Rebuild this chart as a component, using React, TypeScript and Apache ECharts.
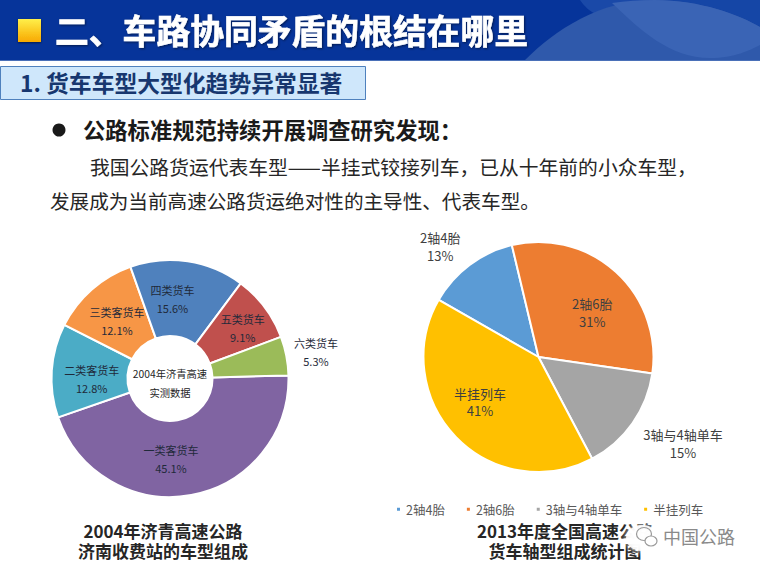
import React, { useEffect, useRef } from "react";
import * as echarts from "echarts";

const FONT = '"Noto Sans CJK SC", "Noto Sans", sans-serif';

const leftNames = ["一类客货车", "二类客货车", "三类客货车", "四类货车", "五类货车", "六类货车"];
const leftValues = [45.1, 12.8, 12.1, 15.6, 9.1, 5.3];
const leftColors = ["#8064a2", "#4bacc6", "#f79646", "#4f81bd", "#c0504d", "#9bbb59"];
const leftLabelShift = [[-14, -2], [5, 6], [2, 5], [-10, 3], [6, 0], [64, -11]];

const rightNames = ["2轴4胎", "2轴6胎", "3轴与4轴单车", "半挂列车"];
const rightValues = [13, 31, 15, 41];
const rightColors = ["#5b9bd5", "#ed7d31", "#a5a5a5", "#ffc000"];
const rightLabelShift = [[-62, -62], [13, 0], [95, 51.5], [-15, 3]];

const headerTitle = "二、车路协同矛盾的根结在哪里";
const sectionTitle = "1. 货车车型大型化趋势异常显著";
const bodyLead = "公路标准规范持续开展调查研究发现：";
const bodyLine1 = "我国公路货运代表车型——半挂式铰接列车，已从十年前的小众车型，";
const bodyLine2 = "发展成为当前高速公路货运绝对性的主导性、代表车型。";
const centerText = "2004年济青高速\n实测数据";
const leftCaption = "2004年济青高速公路\n济南收费站的车型组成";
const rightCaption = "2013年度全国高速公路\n货车轴型组成统计图";
const watermark = "中国公路";

echarts.graphic.registerShape("hdrBand", echarts.graphic.extendPath("M580 0 C584 6 590 12 598 15 C615 6 635 0 655 0 Z", {}));
echarts.graphic.registerShape("hdrSwoosh", echarts.graphic.extendPath("M525 60 C555 30 600 0 655 0 C700 0 740 15 760 27 L760 60 Z", {}));
echarts.graphic.registerShape("hdrOverlap", echarts.graphic.extendPath("M612 3 C640 30 670 58 710 58 C735 58 750 50 760 45 L760 27 C740 15 700 0 655 0 C640 0 625 1 612 3 Z", {}));
echarts.graphic.registerShape("hdrCorner", echarts.graphic.extendPath("M655 0 C700 0 740 15 760 27 L760 0 Z", {}));

const txt = (x: number, y: number, text: string, font: number, fill: string, weight: any = "normal", align: any = "left", extra: any = {}) => ({
  type: "text", x, y, z: 20,
  style: { text, fontFamily: FONT, fontSize: font, fontWeight: weight, fill, align, verticalAlign: "middle", ...extra },
});

const pieLabel = (font: number, color: string, lh: number) => ({
  show: true, position: "inside", formatter: "{b}\n{c}%", fontFamily: FONT, fontSize: font, color, lineHeight: lh,
});

export default function App() {
  const ref = useRef<HTMLDivElement>(null);
  useEffect(() => {
    const chart = echarts.init(ref.current!, null, { renderer: "svg" });
    chart.setOption({
      animation: false,
      backgroundColor: "#ffffff",
      legend: {
        data: rightNames, left: 390, top: 498, icon: "rect", itemWidth: 5, itemHeight: 5, itemGap: 20,
        textStyle: { fontFamily: FONT, fontSize: 12.5, color: "#595959" },
      },
      series: [
        {
          type: "pie", center: [170, 378.5], radius: [42.5, 118.5], startAngle: 1.5, clockwise: true,
          itemStyle: { borderColor: "#fff", borderWidth: 2 },
          label: pieLabel(11, "#1f2a3a", 18),
          labelLine: { show: false },
          labelLayout: (p: any) => ({ dx: leftLabelShift[p.dataIndex][0], dy: leftLabelShift[p.dataIndex][1] }),
          data: leftNames.map((name, i) => ({ name, value: leftValues[i], itemStyle: { color: leftColors[i] } })),
        },
        {
          type: "pie", center: [538.5, 357], radius: [0, 115], startAngle: 150.2, clockwise: true,
          itemStyle: { borderColor: "#fff", borderWidth: 2 },
          label: pieLabel(13, "#404040", 17.5),
          labelLine: { show: false },
          labelLayout: (p: any) => ({ dx: rightLabelShift[p.dataIndex][0], dy: rightLabelShift[p.dataIndex][1] }),
          data: rightNames.map((name, i) => ({ name, value: rightValues[i], itemStyle: { color: rightColors[i] } })),
        },
      ],
      graphic: [
        { type: "rect", z: 1, shape: { x: 0, y: 0, width: 760, height: 60 }, style: { fill: "#06349a" } },
        { type: "hdrBand", z: 2, style: { fill: "#1a49a8" } },
        { type: "hdrCorner", z: 2, style: { fill: "#1546a6" } },
        { type: "hdrSwoosh", z: 3, style: { fill: "#2f59ab" } },
        { type: "hdrOverlap", z: 4, style: { fill: "#3a64b5" } },
        { type: "rect", z: 4, shape: { x: 0, y: 60, width: 760, height: 1 }, style: { fill: "#4a70b8" } },
        {
          type: "rect", z: 5, shape: { x: 18, y: 19, width: 23, height: 23 },
          style: {
            fill: new echarts.graphic.LinearGradient(0, 0, 0, 1, [{ offset: 0, color: "#fff04a" }, { offset: 1, color: "#f8a800" }]),
            shadowBlur: 2, shadowColor: "rgba(0,0,0,0.5)", shadowOffsetY: 1,
          },
        },
        txt(55, 29, headerTitle, 33.8, "#ffffff", "bold", "left", { stroke: "#ffffff", lineWidth: 0.6, textShadowBlur: 2, textShadowColor: "rgba(0,0,0,0.5)", textShadowOffsetX: 1, textShadowOffsetY: 1 }),
        { type: "rect", z: 5, shape: { x: 0.5, y: 66.5, width: 365, height: 33 }, style: { fill: "#cfe7fb", stroke: "#4f81bd", lineWidth: 1 } },
        txt(20, 82.5, sectionTitle, 22.8, "#17376f", "bold"),
        { type: "circle", z: 5, shape: { cx: 59, cy: 130, r: 6.5 }, style: { fill: "#1a1a1a" } },
        txt(83, 128.5, bodyLead, 22.3, "#1a1a1a", "bold"),
        txt(90, 166.5, bodyLine1, 19.8, "#262626"),
        txt(50, 200.5, bodyLine2, 19.6, "#262626"),
        txt(170, 382.5, centerText, 10.3, "#262626", "normal", "center", { lineHeight: 19 }),
        txt(163, 540, leftCaption, 17, "#262626", "bold", "center", { lineHeight: 20 }),
        txt(565, 540, rightCaption, 17, "#262626", "bold", "center", { lineHeight: 20 }),
        { type: "ellipse", z: 30, shape: { cx: 642, cy: 538, rx: 16, ry: 13 }, style: { fill: "rgba(255,255,255,0.9)", shadowBlur: 6, shadowColor: "#ffffff" } },
        { type: "ellipse", z: 31, shape: { cx: 644, cy: 534, rx: 7.5, ry: 6.5 }, style: { fill: "none", stroke: "#9a9a9a", lineWidth: 1.2 } },
        { type: "ellipse", z: 31, shape: { cx: 651, cy: 541, rx: 6, ry: 5 }, style: { fill: "#ffffff", stroke: "#9a9a9a", lineWidth: 1.2 } },
        { ...txt(699, 536, watermark, 18, "#8a8a8a", "normal", "center"), z: 31 },
      ],
    });
    return () => chart.dispose();
  }, []);
  return <div ref={ref} style={{ position: "fixed", left: 0, top: 0, width: 760, height: 571 }} />;
}
